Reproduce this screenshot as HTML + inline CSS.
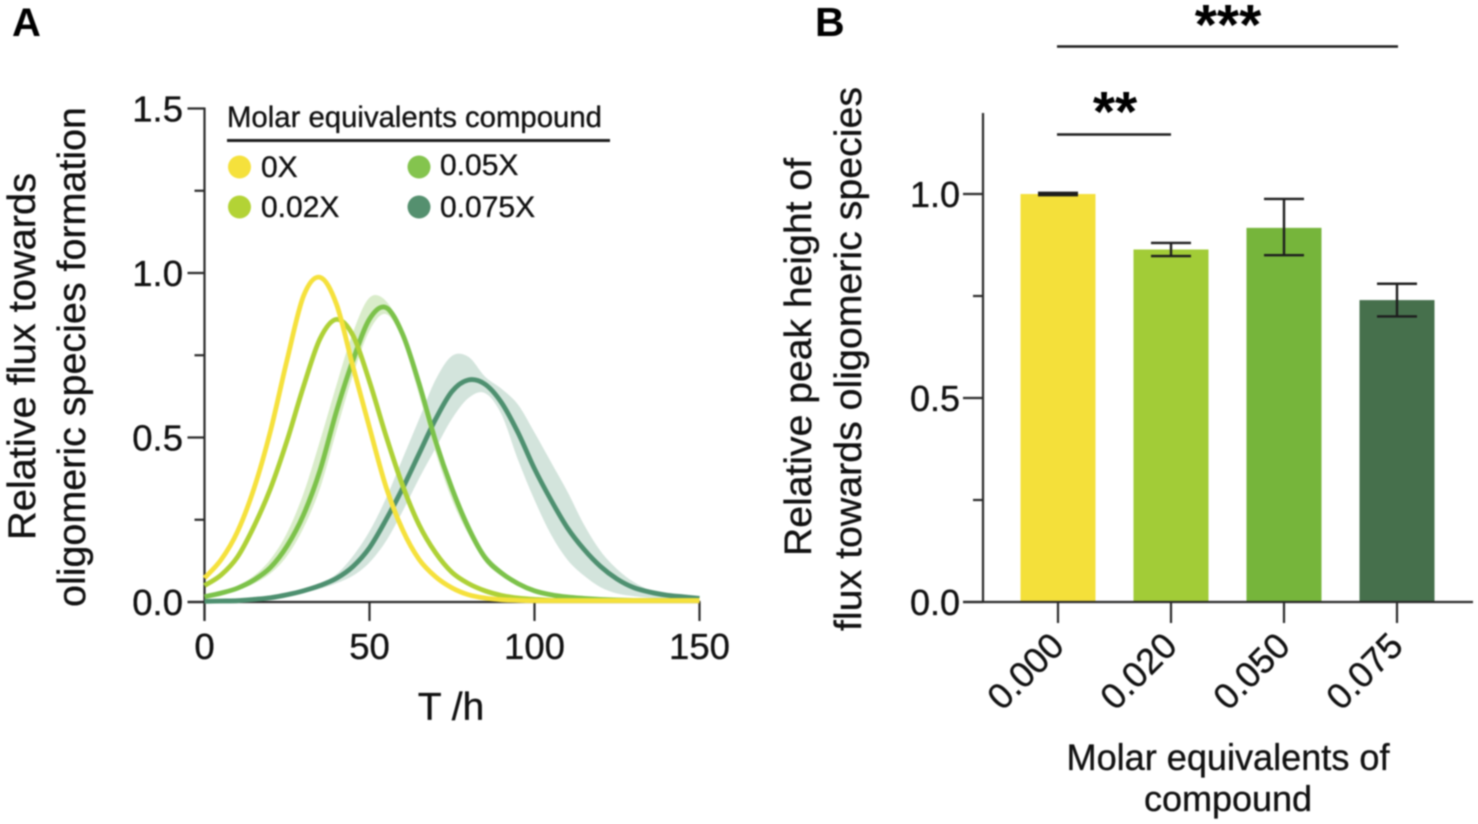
<!DOCTYPE html>
<html>
<head>
<meta charset="utf-8">
<title>Oligomeric species flux</title>
<style>
  html, body { margin: 0; padding: 0; background: #fff; }
  svg { display: block; filter: blur(0.7px); }
  text { font-family: "Liberation Sans", sans-serif; fill: #111; stroke: #111; stroke-width: 0.35px; }
</style>
</head>
<body>
<svg id="figure" width="1478" height="824" viewBox="0 0 1478 824" xmlns="http://www.w3.org/2000/svg"></svg>
<script>
/* ---------- Panel A data ---------- */
const timeHours = [0,5,10,15,20,25,30,35,40,45,50,55,60,65,70,75,80,85,90,95,100,105,110,115,120,125,130,135,140,145,150];
const fluxZero = [.073,.128,.214,.345,.52,.735,.93,.987,.905,.715,.53,.35,.22,.13,.077,.043,.022,.012,.007,.005,.004,.004,.004,.004,.004,.004,.004,.004,.004,.004,.004];
const fluxTwo = [.05,.082,.137,.23,.345,.49,.655,.80,.859,.81,.67,.505,.355,.235,.15,.09,.056,.034,.02,.012,.008,.005,.005,.005,.005,.005,.005,.005,.005,.005,.005];
const fluxFive = [.016,.027,.042,.067,.105,.17,.265,.40,.58,.735,.86,.895,.815,.665,.49,.345,.225,.135,.088,.056,.034,.022,.015,.011,.008,.006,.005,.005,.005,.005,.005];
const fluxFiveUpper = [.018,.031,.05,.08,.13,.21,.33,.49,.66,.82,.925,.915,.825,.68,.51,.365,.245,.15,.098,.062,.038,.025,.017,.012,.009,.007,.005,.005,.005,.005,.005];
const fluxFiveLower = [.014,.023,.036,.056,.087,.14,.225,.345,.52,.69,.825,.875,.795,.63,.455,.31,.205,.122,.078,.05,.03,.02,.013,.01,.007,.005,.005,.005,.005,.005,.005];
const fluxSeven = [.002,.003,.004,.008,.013,.022,.034,.05,.072,.108,.165,.25,.345,.45,.555,.64,.675,.662,.606,.515,.405,.31,.225,.16,.108,.07,.044,.03,.021,.016,.011];
const fluxSevenUpper = [.002,.003,.005,.009,.015,.025,.04,.058,.085,.14,.215,.315,.435,.555,.675,.748,.745,.685,.648,.60,.515,.425,.335,.235,.155,.10,.061,.036,.024,.017,.011];
const fluxSevenLower = [.001,.002,.003,.006,.011,.018,.028,.04,.057,.08,.12,.185,.275,.375,.467,.557,.62,.635,.57,.432,.31,.205,.128,.08,.045,.026,.018,.013,.011,.01,.01];
const xTicksA = [0,50,100,150];
const yMajorTicksA = [0,0.5,1,1.5];
const yMinorTicksA = [0.25,0.75,1.25];

/* ---------- Panel B data ---------- */
const doseLabels = ['0.000','0.020','0.050','0.075'];
const peakHeights = [1.0,0.864,0.917,0.74];
const errorLow = [0.997,0.848,0.85,0.70];
const errorHigh = [1.003,0.88,0.988,0.78];
const yMajorTicksB = [0,0.5,1];
const yMinorTicksB = [0.25,0.75];
const barColors = ['#f4e03a','#a2cc37','#76b53b','#46704c'];

const NS = 'http://www.w3.org/2000/svg';
const root = document.getElementById('figure');
const INK = '#2a2a2a';

function make(tag, attrs) {
  const el = document.createElementNS(NS, tag);
  for (const k in attrs) el.setAttribute(k, attrs[k]);
  root.appendChild(el);
  return el;
}
function smooth(pts, move) {
  let d = (move ? 'M' : 'L') + pts[0][0].toFixed(2) + ' ' + pts[0][1].toFixed(2);
  for (let i = 0; i < pts.length - 1; i++) {
    const p0 = pts[Math.max(i - 1, 0)], p1 = pts[i], p2 = pts[i + 1], p3 = pts[Math.min(i + 2, pts.length - 1)];
    const c1x = p1[0] + (p2[0] - p0[0]) / 6, c1y = p1[1] + (p2[1] - p0[1]) / 6;
    const c2x = p2[0] - (p3[0] - p1[0]) / 6, c2y = p2[1] - (p3[1] - p1[1]) / 6;
    d += 'C' + c1x.toFixed(2) + ' ' + c1y.toFixed(2) + ' ' + c2x.toFixed(2) + ' ' + c2y.toFixed(2) + ' ' + p2[0].toFixed(2) + ' ' + p2[1].toFixed(2);
  }
  return d;
}

/* ---------- Panel A axes ---------- */
const xA = t => 204.5 + t * 3.3;
const yA = v => 602 - v * 329;
const toPts = vals => vals.map((v, i) => [xA(timeHours[i]), yA(v)]);

function band(upper, lower, color, name) {
  const d = smooth(toPts(upper), true) + smooth(toPts(lower).reverse(), false) + 'Z';
  const el = make('path', { d: d, fill: color });
  
  
}
function curve(vals, color, name) {
  const el = make('path', { d: smooth(toPts(vals), true), fill: 'none', stroke: color, 'stroke-width': 4.8, 'stroke-linejoin': 'round' });
  
  
}

band(fluxSevenUpper, fluxSevenLower, '#d3e4dc', 'band-0-075x');
band(fluxFiveUpper, fluxFiveLower, '#d9ecca', 'band-0-05x');

const axisYA = make('line', { x1: xA(0), x2: xA(0), y1: yA(1.5) - 1, y2: yA(0) + 19, stroke: INK, 'stroke-width': 2.2 });


const axisXA = make('line', { x1: xA(0) - 17, x2: xA(150) + 1, y1: yA(0), y2: yA(0), stroke: INK, 'stroke-width': 2.2 });



yMajorTicksA.forEach(v => {
  const tick = make('line', { x1: xA(0) - 17, x2: xA(0), y1: yA(v), y2: yA(v), stroke: INK, 'stroke-width': 2.2 });
  
  
  const label = make('text', { x: 183, y: yA(v) + 13, 'font-size': 36.5, 'text-anchor': 'end' });
  label.textContent = v.toFixed(1);
  
  
});
yMinorTicksA.forEach(v => {
  const tick = make('line', { x1: xA(0) - 10, x2: xA(0), y1: yA(v), y2: yA(v), stroke: INK, 'stroke-width': 2.2 });
  
  
});
xTicksA.forEach(v => {
  const tick = make('line', { x1: xA(v), x2: xA(v), y1: yA(0), y2: yA(0) + 19, stroke: INK, 'stroke-width': 2.2 });
  
  
  const label = make('text', { x: xA(v), y: 659, 'font-size': 36.5, 'text-anchor': 'middle' });
  label.textContent = String(v);
  
  
});

curve(fluxSeven, '#4e9070', 'curve-0-075x');
curve(fluxFive, '#7cc24a', 'curve-0-05x');
curve(fluxTwo, '#aed136', 'curve-0-02x');
curve(fluxZero, '#f5e13c', 'curve-0x');

/* ---------- Panel B axes ---------- */
const xB = i => 1058 + i * 113;
const yB = v => 602 - v * 408;

peakHeights.forEach((v, i) => {
  const bar = make('rect', { x: xB(i) - 37.5, y: yB(v), width: 75, height: yB(0) - yB(v), fill: barColors[i] });
  
  
});
const axisYB = make('line', { x1: 983, x2: 983, y1: 113, y2: yB(0) + 1, stroke: INK, 'stroke-width': 2.2 });


const axisXB = make('line', { x1: 963, x2: 1473, y1: yB(0), y2: yB(0), stroke: INK, 'stroke-width': 2.2 });



yMajorTicksB.forEach(v => {
  const tick = make('line', { x1: 963, x2: 983, y1: yB(v), y2: yB(v), stroke: INK, 'stroke-width': 2.2 });
  
  
  const label = make('text', { x: 960, y: yB(v) + 13, 'font-size': 36, 'text-anchor': 'end' });
  label.textContent = v.toFixed(1);
  
  
});
yMinorTicksB.forEach(v => {
  const tick = make('line', { x1: 973, x2: 983, y1: yB(v), y2: yB(v), stroke: INK, 'stroke-width': 2.2 });
  
  
});
doseLabels.forEach((lab, i) => {
  const tick = make('line', { x1: xB(i), x2: xB(i), y1: yB(0), y2: yB(0) + 21, stroke: INK, 'stroke-width': 2.2 });
  
  
  const label = make('text', { x: xB(i) + 8, y: 648, 'font-size': 36, 'text-anchor': 'end', transform: 'rotate(-45 ' + (xB(i) + 8) + ' 648)' });
  label.textContent = lab;
  
  

  const stem = make('line', { x1: xB(i), x2: xB(i), y1: yB(errorHigh[i]), y2: yB(errorLow[i]), stroke: '#1d1d1d', 'stroke-width': 2.4 });
  
  
  const capTop = make('line', { x1: xB(i) - 20, x2: xB(i) + 20, y1: yB(errorHigh[i]), y2: yB(errorHigh[i]), stroke: '#1d1d1d', 'stroke-width': 2.4 });
  
  
  const capLow = make('line', { x1: xB(i) - 20, x2: xB(i) + 20, y1: yB(errorLow[i]), y2: yB(errorLow[i]), stroke: '#1d1d1d', 'stroke-width': 2.4 });
  
  
});
</script>
<script>
/* ---------- Static labels ---------- */
(function () {
  function label(txt, x, y, size, opts) {
    const el = make('text', Object.assign({ x: x, y: y, 'font-size': size }, opts || {}));
    el.textContent = txt;
    return el;
  }
  const fit = (len) => ({ textLength: len, lengthAdjust: 'spacingAndGlyphs' });

  const panelA = label('A', 12, 36, 40, { 'font-weight': 'bold', style: 'fill:#000;stroke:none' });
  
  
  const panelB = label('B', 815, 36, 41, { 'font-weight': 'bold', style: 'fill:#000;stroke:none' });
  
  

  const ya1 = label('Relative flux towards', 0, 0, 39, Object.assign({ transform: 'translate(35 540) rotate(-90)' }, fit(367)));
  
  
  const ya2 = label('oligomeric species formation', 0, 0, 39, Object.assign({ transform: 'translate(85 607) rotate(-90)' }, fit(500)));
  
  
  const xa = label('T /h', 451, 720, 39, { 'text-anchor': 'middle' });
  
  

  const legendTitle = label('Molar equivalents compound', 227, 127, 30, fit(375));
  
  
  const legendRule = make('line', { x1: 227, x2: 610, y1: 140.5, y2: 140.5, stroke: '#1d1d1d', 'stroke-width': 3 });
  
  

  const d1 = make('circle', { cx: 239.5, cy: 167, r: 11.5, fill: '#f5e13c' });
  
  
  const d2 = make('circle', { cx: 239.5, cy: 207, r: 11.5, fill: '#b3d335' });
  
  
  const d3 = make('circle', { cx: 419, cy: 167, r: 11.5, fill: '#84c44e' });
  
  
  const d4 = make('circle', { cx: 419, cy: 207, r: 11.5, fill: '#55906f' });
  
  

  const l1 = label('0X', 261, 177, 30);
  
  
  const l2 = label('0.02X', 261, 217, 30);
  
  
  const l3 = label('0.05X', 440, 175, 30);
  
  
  const l4 = label('0.075X', 440, 217, 30);
  
  

  const yb1 = label('Relative peak height of', 0, 0, 38, Object.assign({ transform: 'translate(811 556) rotate(-90)' }, fit(398)));
  
  
  const yb2 = label('flux towards oligomeric species', 0, 0, 38, Object.assign({ transform: 'translate(861 631) rotate(-90)' }, fit(544)));
  
  

  const xb1 = label('Molar equivalents of', 1228, 770, 37, Object.assign({ 'text-anchor': 'middle' }, fit(323)));
  
  
  const xb2 = label('compound', 1228, 811, 36, { 'text-anchor': 'middle' });
  
  

  const s1 = make('line', { x1: 1057, x2: 1171, y1: 134.5, y2: 134.5, stroke: '#1d1d1d', 'stroke-width': 2.6 });
  
  
  const s2 = make('line', { x1: 1057, x2: 1398, y1: 46.5, y2: 46.5, stroke: '#1d1d1d', 'stroke-width': 2.6 });
  
  
  const st1 = label('**', 1115, 131, 57, { 'text-anchor': 'middle', 'font-weight': 'bold', style: 'fill:#000;stroke:none' });
  
  
  const st2 = label('***', 1228, 44, 57, { 'text-anchor': 'middle', 'font-weight': 'bold', style: 'fill:#000;stroke:none' });
  
  
})();
</script>
</body>
</html>
